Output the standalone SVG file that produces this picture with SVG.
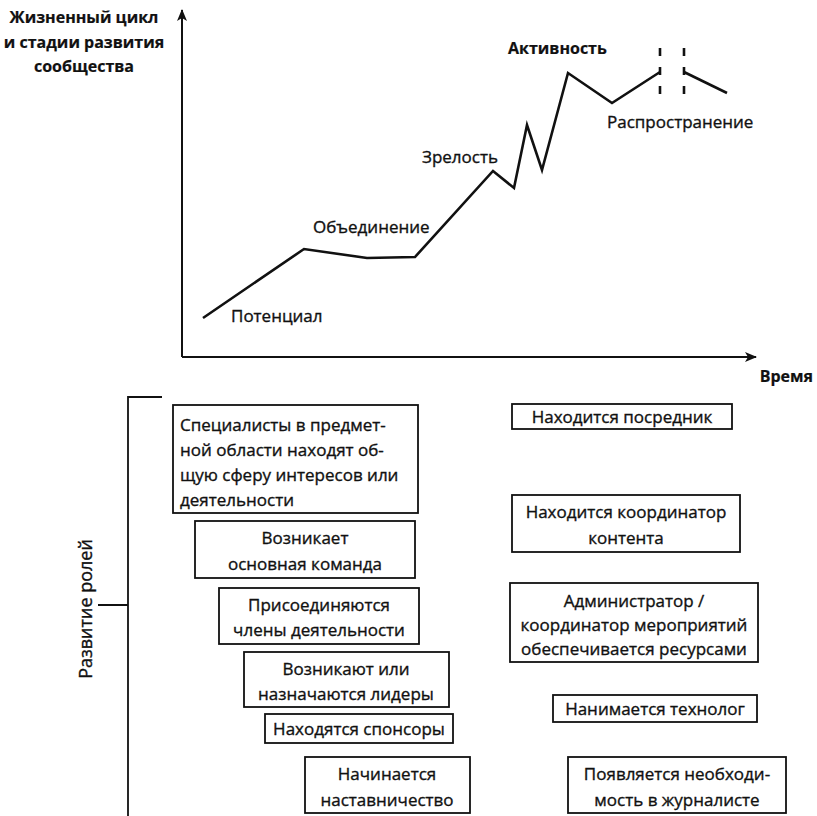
<svg xmlns="http://www.w3.org/2000/svg" width="817" height="816" viewBox="0 0 817 816">
  <style>
    text { font-family: "Open Sans", "Noto Sans", "DejaVu Sans", sans-serif; font-size: 17px; fill: #111; stroke: #111; stroke-width: 0.35; }
    .b { font-weight: bold; font-size: 16px; stroke-width: 0.2; }
    .c { text-anchor: middle; }
    .e { text-anchor: end; }
    .v { font-size: 18px; }
    .box { fill: #fff; stroke: #111; stroke-width: 1.8; }
    .axis { fill: none; stroke: #111; stroke-width: 2; }
    .curve { fill: none; stroke: #111; stroke-width: 2.6; stroke-linejoin: miter; }
    .dash { fill: none; stroke: #111; stroke-width: 2.6; stroke-dasharray: 8 11; }
    .brk { fill: none; stroke: #111; stroke-width: 1.8; }
  </style>
  <defs>
    <marker id="arrow" viewBox="0 0 12 10" refX="11" refY="5" markerWidth="12" markerHeight="10" markerUnits="userSpaceOnUse" orient="auto">
      <path d="M0,0 L12,5 L0,10 L3,5 Z" fill="#111"/>
    </marker>
  </defs>

  <rect width="817" height="816" fill="#fff"/>

  <!-- axes -->
  <g id="axes">
    <line class="axis" x1="182" y1="357" x2="182" y2="10" marker-end="url(#arrow)"/>
    <line class="axis" x1="182" y1="357" x2="756" y2="357" marker-end="url(#arrow)"/>
    <text class="b c" x="84" y="23">Жизненный цикл</text>
    <text class="b c" x="84" y="48">и стадии развития</text>
    <text class="b c" x="84" y="72">сообщества</text>
    <text class="b e" x="813" y="382">Время</text>
  </g>

  <!-- life-cycle curve -->
  <g id="curve">
    <polyline class="curve" points="203,318 304,249 367,258 415,257 493,171 514,188 527,125 542,170 568,73 612,103 660,72"/>
    <polyline class="curve" points="684,72 727,93"/>
    <line class="dash" x1="660" y1="48" x2="660" y2="98"/>
    <line class="dash" x1="684" y1="48" x2="684" y2="98"/>
    <text x="231" y="322">Потенциал</text>
    <text x="313" y="233">Объединение</text>
    <text x="422" y="163">Зрелость</text>
    <text class="b" x="508" y="54">Активность</text>
    <text x="607" y="128">Распространение</text>
  </g>

  <!-- roles bracket -->
  <g id="roles-bracket">
    <path class="brk" d="M162,397 H128 V816 M98,605 H128"/>
    <text class="c v" transform="translate(92,609) rotate(-90)">Развитие ролей</text>
  </g>

  <!-- left column of roles -->
  <g id="n1">
    <rect class="box" x="173" y="405" width="245" height="108"/>
    <text x="180" y="431">Специалисты в предмет-</text>
    <text x="180" y="456">ной области находят об-</text>
    <text x="180" y="481">щую сферу интересов или</text>
    <text x="180" y="506">деятельности</text>
  </g>
  <g id="n2">
    <rect class="box" x="195" y="521" width="220" height="57"/>
    <text class="c" x="305" y="544">Возникает</text>
    <text class="c" x="305" y="570">основная команда</text>
  </g>
  <g id="n3">
    <rect class="box" x="219" y="588" width="200" height="56"/>
    <text class="c" x="319" y="611">Присоединяются</text>
    <text class="c" x="319" y="636">члены деятельности</text>
  </g>
  <g id="n4">
    <rect class="box" x="244" y="652" width="205" height="55"/>
    <text class="c" x="346" y="675">Возникают или</text>
    <text class="c" x="346" y="700">назначаются лидеры</text>
  </g>
  <g id="n5">
    <rect class="box" x="265" y="714" width="188" height="29"/>
    <text class="c" x="359" y="735">Находятся спонсоры</text>
  </g>
  <g id="n6">
    <rect class="box" x="305" y="757" width="165" height="56"/>
    <text class="c" x="387" y="780">Начинается</text>
    <text class="c" x="387" y="806">наставничество</text>
  </g>

  <!-- right column of roles -->
  <g id="n7">
    <rect class="box" x="512" y="404" width="220" height="25"/>
    <text class="c" x="622" y="423">Находится посредник</text>
  </g>
  <g id="n8">
    <rect class="box" x="512" y="495" width="228" height="57"/>
    <text class="c" x="626" y="518">Находится координатор</text>
    <text class="c" x="626" y="544">контента</text>
  </g>
  <g id="n9">
    <rect class="box" x="510" y="583" width="248" height="79"/>
    <text class="c" x="634" y="607">Администратор /</text>
    <text class="c" x="634" y="631">координатор мероприятий</text>
    <text class="c" x="634" y="655">обеспечивается ресурсами</text>
  </g>
  <g id="n10">
    <rect class="box" x="553" y="695" width="204" height="27"/>
    <text class="c" x="655" y="715">Нанимается технолог</text>
  </g>
  <g id="n11">
    <rect class="box" x="568" y="757" width="218" height="56"/>
    <text class="c" x="677" y="780">Появляется необходи-</text>
    <text class="c" x="677" y="806">мость в журналисте</text>
  </g>
</svg>
